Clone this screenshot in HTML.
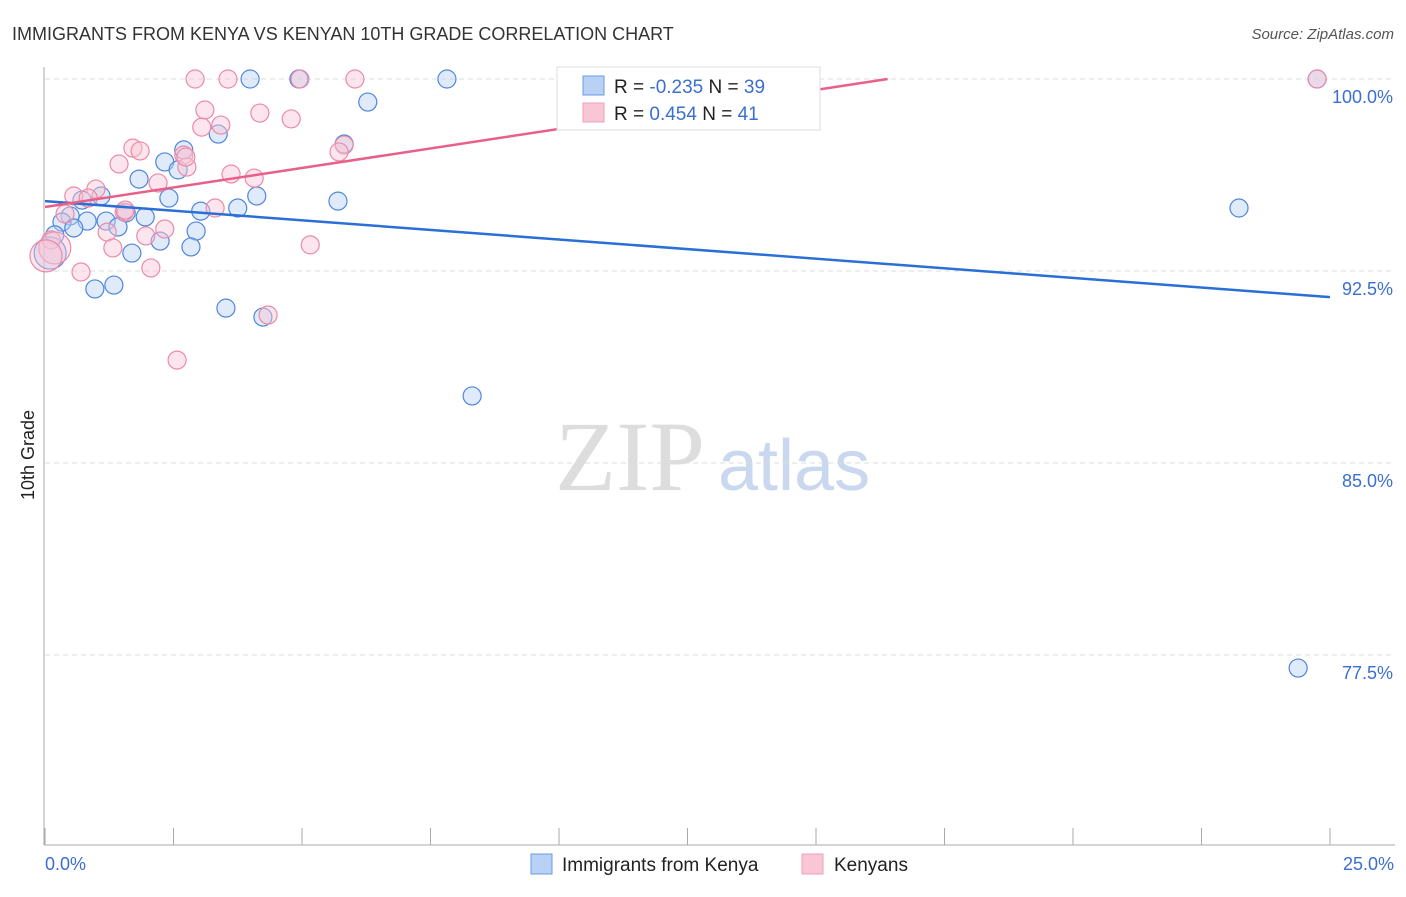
<!DOCTYPE html>
<html><head><meta charset="utf-8"><style>
body{margin:0;background:#fff;font-family:"Liberation Sans",sans-serif}
</style></head><body>
<svg width="1406" height="892" xmlns="http://www.w3.org/2000/svg" id="chart" font-family="Liberation Sans, sans-serif">
<text x="12" y="40" font-size="18" fill="#333">IMMIGRANTS FROM KENYA VS KENYAN 10TH GRADE CORRELATION CHART</text>
<text x="1394" y="39" font-size="15" fill="#555" font-style="italic" text-anchor="end">Source: ZipAtlas.com</text>
<text x="555" y="490" font-size="100" fill="#ddd" font-family="Liberation Serif, serif">ZIP</text>
<text x="718" y="490" font-size="72" fill="#c9d8ef">atlas</text>
<text transform="translate(34,455) rotate(-90)" font-size="18" fill="#222" text-anchor="middle">10th Grade</text>
<g id="grid"></g><g id="marks"></g>
<g>
<rect x="557" y="67" width="263" height="63" fill="#fff" stroke="#ddd"/>
<rect x="583" y="76" width="21" height="19" fill="#b8d1f5" stroke="#6a9be0"/>
<rect x="583" y="103" width="21" height="19" fill="#f9c6d5" stroke="#f0a0b8"/>
<text x="614" y="93" font-size="19" fill="#222">R = <tspan fill="#3a6fd0">-0.235</tspan>   N = <tspan fill="#3a6fd0">39</tspan></text>
<text x="614" y="120" font-size="19" fill="#222">R =  <tspan fill="#3a6fd0">0.454</tspan>   N =  <tspan fill="#3a6fd0">41</tspan></text>
</g>
<g>
<rect x="531" y="854" width="21" height="20" fill="#b8d1f5" stroke="#6a9be0"/>
<text x="562" y="871" font-size="19" fill="#222">Immigrants from Kenya</text>
<rect x="802" y="854" width="21" height="20" fill="#f9c6d5" stroke="#f0a0b8"/>
<text x="834" y="871" font-size="19" fill="#222">Kenyans</text>
</g>
</svg>
<script>
const yTicks=[100,92.5,85,77.5];
const yTickLabels=["100.0%","92.5%","85.0%","77.5%"];
const xTickLabels=["0.0%","25.0%"];
const blueX=[3.99,4.94,7.82,24.75,6.28,3.37,5.82,2.70,2.33,2.59,1.83,2.41,1.09,4.12,5.70,3.75,3.03,1.58,1.95,0.49,0.82,1.19,0.33,0.56,1.42,2.94,0.19,2.24,2.84,0.10,1.69,1.34,0.97,3.52,4.24,8.31,23.23,24.38,0.72];
const blueY=[100,100,100,100,99.10,97.85,97.46,97.23,96.76,96.45,96.09,95.35,95.43,95.43,95.23,94.96,94.84,94.77,94.61,94.65,94.45,94.45,94.41,94.18,94.22,94.06,93.91,93.67,93.44,93.20,93.20,91.95,91.80,91.05,90.70,87.62,94.96,76.99,95.27];
const pinkX=[2.92,3.56,6.03,10.33,24.75,3.11,4.18,4.79,3.42,3.05,5.82,1.71,1.85,2.70,5.72,1.44,2.76,3.62,4.07,2.20,0.56,0.99,0.84,1.54,0.39,3.31,1.21,1.96,2.33,1.32,5.16,0.12,0.19,2.06,0.70,4.34,2.57,0.02,4.96,2.74,1.56];
const pinkY=[100,100,100,100,100,98.79,98.67,98.44,98.20,98.12,97.42,97.30,97.19,97.03,97.15,96.68,96.56,96.29,96.13,95.94,95.43,95.70,95.35,94.80,94.73,94.96,94.02,93.87,94.14,93.40,93.52,93.71,93.40,92.62,92.46,90.78,89.02,93.09,100,96.95,94.88];
const blueTrend=[95.23,91.48];
const pinkTrend=[95.0,0.305];
const NS="http://www.w3.org/2000/svg";
const xs=v=>45+v/25*1285, ys=v=>79+(100-v)*25.6;
function mk(t,a,p){const e=document.createElementNS(NS,t);for(const k in a)e.setAttribute(k,a[k]);p.appendChild(e);return e;}
const g=document.getElementById('grid'),m=document.getElementById('marks');
yTicks.forEach((t,i)=>{
 const l=mk('line',{x1:45,x2:1395,y1:ys(t),y2:ys(t),stroke:'#ddd','stroke-dasharray':'5,4'},g);
 
 
 const tx=mk('text',{x:1393,y:ys(t)+24,'font-size':18,fill:'#3a6fd0','text-anchor':'end'},g);tx.textContent=yTickLabels[i];
 
 
});
const ax=mk('line',{x1:44,x2:44,y1:67,y2:845,stroke:'#aaa'},g);


const bx=mk('line',{x1:44,x2:1395,y1:845,y2:845,stroke:'#aaa'},g);


for(let i=0;i<=10;i++){const t=mk('line',{x1:xs(i*2.5),x2:xs(i*2.5),y1:828,y2:845,stroke:'#aaa'},g);
 
 }
[[0,'start',45],[25,'end',1394]].forEach((d,i)=>{const t=mk('text',{x:d[2],y:870,'font-size':18,fill:'#3a6fd0','text-anchor':d[1]},g);t.textContent=xTickLabels[i];
 
 });
function pts(X,Y,fill,stroke,name){X.forEach((x,i)=>{const big=x<0.25&&Y[i]<93.5;
 const c=mk('circle',{cx:xs(x),cy:ys(Y[i]),r:big?16:9,fill:fill,'fill-opacity':0.45,stroke:stroke,'stroke-width':1.2},m);
 
 });}
pts(blueX,blueY,'#b8d1f5','#4f86dc','kenya-immigrant-point');
pts(pinkX,pinkY,'#f9c6d5','#ec8aa8','kenyan-point');
const bl=mk('line',{x1:xs(0),y1:ys(blueTrend[0]),x2:xs(25),y2:ys(blueTrend[1]),stroke:'#2a6fd6','stroke-width':2.5},m);


const xe=(100-pinkTrend[0])/pinkTrend[1];
const pl=mk('line',{x1:xs(0),y1:ys(pinkTrend[0]),x2:xs(xe),y2:ys(100),stroke:'#e8608a','stroke-width':2.5},m);


</script>
</body></html>
